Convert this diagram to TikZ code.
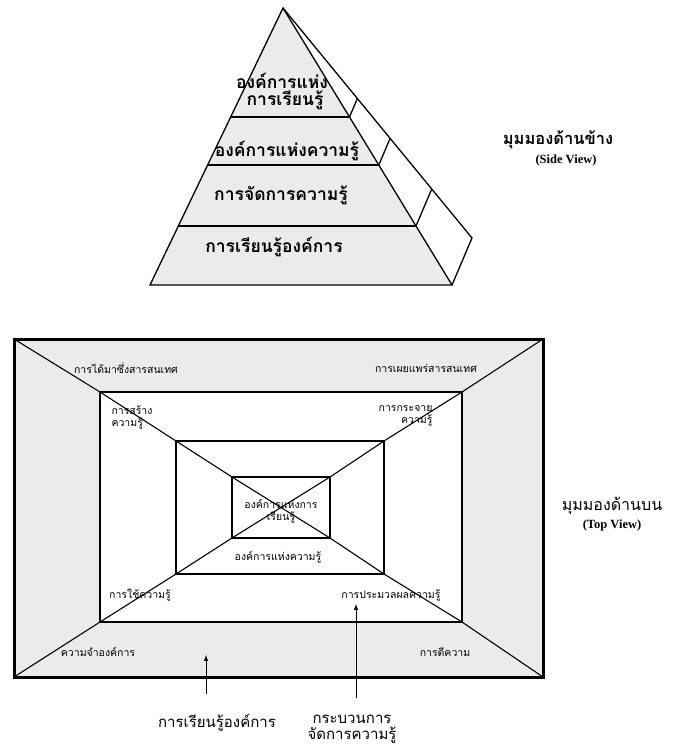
\documentclass[tikz,border=0pt]{standalone}
\usepackage{fontspec}
\setmainfont{Liberation Serif}
\newfontfamily\thai[Script=Thai]{Loma}
\usetikzlibrary{calc}

\tikzset{
  edge/.style={line width=1.3pt},
  shade/.style={fill=gray!16},
  pyrtext/.style={font=\thai\bfseries\fontsize{17.5}{19}\selectfont},
  toptext/.style={font=\thai\fontsize{10.5}{12}\selectfont},
  viewtext/.style={font=\thai\bfseries\fontsize{16.5}{18}\selectfont},
  engtext/.style={font=\bfseries\fontsize{12.5}{14}\selectfont},
  bottext/.style={font=\thai\fontsize{15}{15.5}\selectfont,align=center}
}

\begin{document}
\begin{tikzpicture}[x=1pt,y=-1pt]
      \useasboundingbox (0,0) rectangle (697,745);

      % side view
      \coordinate (apex) at (283,8);
      \coordinate (baseL) at (150,285);
      \coordinate (baseF) at (452,285);
      \coordinate (backR) at (472,238);
      \draw[edge,shade] (apex) -- (baseL) -- (baseF) -- cycle;
      \draw[edge] (apex) -- (backR) -- (baseF);
      \foreach \t in {0.3935,0.5668,0.787}{
        \draw[edge] ($(apex)!\t!(baseL)$) -- ($(apex)!\t!(baseF)$);
        \draw[edge] ($(apex)!\t!(baseF)$) -- ($(apex)!\t!(backR)$);
      }
      \node[pyrtext] (lo1) at (282,81) {องค์การแห่ง};
      \node[pyrtext] (lo2) at (285,100) {การเรียนรู้};
      \node[pyrtext] (ko) at (287,151) {องค์การแห่งความรู้};
      \node[pyrtext] (km) at (281,195) {การจัดการความรู้};
      \node[pyrtext] (ol) at (274,247) {การเรียนรู้องค์การ};

      \node[viewtext] (side) at (558,140) {มุมมองด้านข้าง};
      \node[engtext] (sideE) at (566,160) {(Side View)};

      % top view
      \foreach \n/\xa/\ya/\xb/\yb in {outer/14/339/543/677,ring/100/392/462/622,
                                      mid/176/441/384/574,core/232/477/330/538}{
        \coordinate (\n-tl) at (\xa,\ya);
        \coordinate (\n-tr) at (\xb,\ya);
        \coordinate (\n-br) at (\xb,\yb);
        \coordinate (\n-bl) at (\xa,\yb);
      }
      \fill[shade] (outer-tl) rectangle (outer-br);
      \fill[white] (ring-tl) rectangle (ring-br);
      \draw[line width=1.1pt] (outer-tl) -- (ring-tl) -- (mid-tl) -- (core-tl) -- (core-br)
                              -- (mid-br) -- (ring-br) -- (outer-br);
      \draw[line width=1.1pt] (outer-tr) -- (ring-tr) -- (mid-tr) -- (core-tr) -- (core-bl)
                              -- (mid-bl) -- (ring-bl) -- (outer-bl);
      \draw[line width=3pt] (outer-tl) rectangle (outer-br);
      \draw[line width=2.2pt] (ring-tl) rectangle (ring-br);
      \draw[edge] (mid-tl) rectangle (mid-br);
      \draw[edge] (core-tl) rectangle (core-br);

      \node[toptext] (get) at (126,368) {การได้มาซึ่งสารสนเทศ};
      \node[toptext] (spread) at (426,368) {การเผยแพร่สารสนเทศ};
      \node[toptext,align=left,anchor=north west] (make) at (108,402) {การสร้าง\\ความรู้};
      \node[toptext,align=right,anchor=north east] (share) at (436,402) {การกระจาย\\ความรู้};
      \node[toptext,align=center] (lorg) at (281,511) {องค์การแห่งการ\\เรียนรู้};
      \node[toptext] (korg) at (278,557) {องค์การแห่งความรู้};
      \node[toptext] (use) at (140,595) {การใช้ความรู้};
      \node[toptext] (proc) at (391,595) {การประมวลผลความรู้};
      \node[toptext] (memo) at (98,652) {ความจำองค์การ};
      \node[toptext] (interp) at (445,652) {การตีความ};

      \node[viewtext,font=\thai\fontsize{16}{18}\selectfont] (top) at (612,506) {มุมมองด้านบน};
      \node[engtext] (topE) at (612,525) {(Top View)};

      \node[bottext] (learn) at (217,723) {การเรียนรู้องค์การ};
      \node[bottext] (kmproc) at (352,729) {กระบวนการ\\จัดการความรู้};
      \coordinate (tailL) at (206,694);
      \coordinate (tipL) at (206,655);
      \coordinate (tailR) at (356,698);
      \coordinate (tipR) at (356,604);
      \draw[line width=1pt,-latex] (tailL) -- (tipL);
      \draw[line width=1pt,-latex] (tailR) -- (tipR);
\end{tikzpicture}
\end{document}
